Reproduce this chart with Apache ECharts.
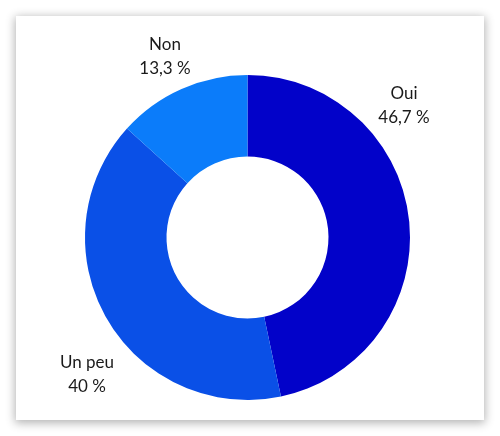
<!DOCTYPE html>
<html><head><meta charset="utf-8">
<script src="https://cdn.jsdelivr.net/npm/echarts@6/dist/echarts.min.js"></script>
<style>
html,body{margin:0;padding:0;background:#ffffff;}
#card{position:absolute;left:16px;top:16px;width:468px;height:404px;background:#fff;box-shadow:0 2px 9px 1px rgba(0,0,0,0.3);}
#chart{position:absolute;left:0;top:0;width:500px;height:436px;}
</style></head>
<body>
<div id="card"></div>
<div id="chart"></div>
<script>
const categories = ['Oui', 'Un peu', 'Non'];
const values = [46.7, 40, 13.3];
const colors = ['#0202C9', '#0A50E7', '#0B7CFA'];
const labelPos = [[404, 106], [87, 375], [165, 57]];

const chart = echarts.init(document.getElementById('chart'));
chart.setOption({
  backgroundColor: 'transparent',
  animation: false,
  series: [{
    type: 'pie',
    center: [247.5, 237.5],
    radius: [81, 162.5],
    startAngle: 90,
    clockwise: true,
    data: categories.map((c, i) => ({ name: c, value: values[i], itemStyle: { color: colors[i] } })),
    label: {
      show: true,
      position: 'outside',
      color: '#1a1a1a',
      fontFamily: 'Lato',
      fontSize: 17,
      lineHeight: 24,
      overflow: 'none',
      width: 100,
      align: 'center',
      formatter: p => p.name + '\n' + String(p.value).replace('.', ',') + ' %'
    },
    labelLine: { show: false },
    labelLayout: p => ({ x: labelPos[p.dataIndex][0], y: labelPos[p.dataIndex][1], align: 'center', verticalAlign: 'middle' }),
    emphasis: { disabled: true }
  }]
});
</script>
</body></html>
